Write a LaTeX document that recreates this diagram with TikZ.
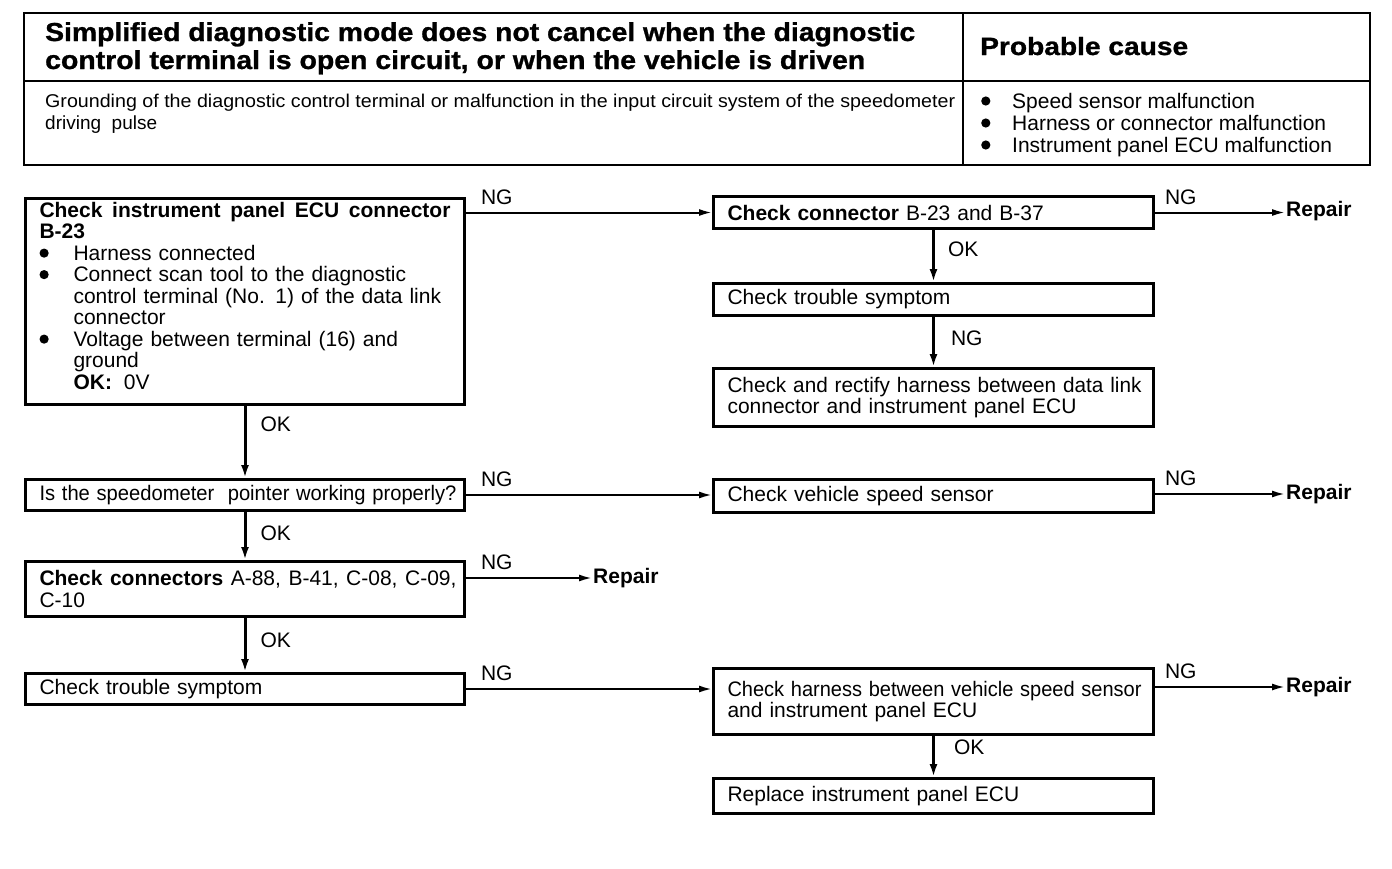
\documentclass[tikz,border=0pt]{standalone}
\usepackage{fontspec}
\setmainfont{Liberation Sans}
\newfontfamily\heavyfont{Liberation Sans}[BoldFeatures={FakeBold=1}]
\usepackage{graphicx}
\usetikzlibrary{arrows.meta}

\newcommand\bodyfont{\fontsize{21pt}{21.5pt}\selectfont}
\newcommand\bulletmark[1]{\makebox[#1pt][l]{\tikz[baseline=-7pt]\fill (0,0) circle (4.6pt);}}

\tikzset{
  box/.style={draw, line width=3pt, rectangle, anchor=north west, inner xsep=14pt, inner ysep=0pt,
              align=left, font=\bodyfont},
  lbox/.style={box, minimum width=439pt, text width=411pt},
  rbox/.style={box, minimum width=440pt, text width=412pt},
  lbl/.style={font=\bodyfont, inner sep=0pt, anchor=base west},
  rep/.style={font=\bodyfont\bfseries, inner sep=1pt, anchor=west},
  txt/.style={inner sep=0pt, anchor=base west},
  con/.style={line width=2pt, -{Latex[length=13pt,width=7pt]}},
  vcon/.style={line width=3pt, -{Latex[length=13pt,width=8pt]}},
  frame/.style={line width=2.6pt}
}

\begin{document}
\begin{tikzpicture}[x=1pt,y=1pt]
\useasboundingbox (0,0) rectangle (1392,-868);

% ---------- header table ----------
\draw[frame] (24,-13) rectangle (1370,-165);
\draw[frame] (24,-81) -- (1370,-81);
\draw[frame] (963,-13) -- (963,-165);

\node[txt] (t1) at (45,-41) {\resizebox{870pt}{\height}{\fontsize{26pt}{28pt}\heavyfont\bfseries Simplified diagnostic mode does not cancel when the diagnostic}};
\node[txt] (t2) at (45,-69) {\resizebox{820pt}{\height}{\fontsize{26pt}{28pt}\heavyfont\bfseries control terminal is open circuit, or when the vehicle is driven}};
\node[txt] (pc) at (980,-55) {\resizebox{208pt}{\height}{\fontsize{25pt}{28pt}\heavyfont\bfseries Probable cause}};

\node[txt] (g1) at (45,-107) {\resizebox{910pt}{\height}{\fontsize{18.5pt}{22pt}\selectfont Grounding of the diagnostic control terminal or malfunction in the input circuit system of the speedometer}};
\node[txt] (g2) at (45,-129) {\fontsize{19pt}{22pt}\selectfont driving\ \ pulse};

\node[txt, font=\bodyfont] (c1) at (981,-108) {\bulletmark{31}Speed sensor malfunction};
\node[txt, font=\bodyfont] (c2) at (981,-130) {\bulletmark{31}Harness or connector malfunction};
\node[txt, font=\bodyfont] (c3) at (981,-152) {\bulletmark{31}Instrument panel ECU malfunction};

% ---------- left column ----------
\node[lbox, minimum height=206pt] (A) at (24,-197) {%
\makebox[411pt][l]{\bfseries Check\hfill instrument\hfill panel\hfill ECU\hfill connector}\\
\textbf{B-23}\\
\bulletmark{34}Harness connected\\
\bulletmark{34}Connect scan tool to the diagnostic\\
\hspace*{34pt}control terminal (No. 1) of the data link\\
\hspace*{34pt}connector\\
\bulletmark{34}Voltage between terminal (16) and\\
\hspace*{34pt}ground\\
\hspace*{34pt}\textbf{OK:}\hspace{12pt}0V\rule[-12pt]{0pt}{1pt}};

\node[lbox, minimum height=31pt] (E) at (24,-478) {\resizebox{417pt}{\height}{Is the speedometer\ \ pointer working properly?}};
\node[lbox, minimum height=55pt] (G) at (24,-560) {\makebox[417pt][l]{\textbf{Check\hfill connectors}\hfill A-88,\hfill B-41,\hfill C-08,\hfill C-09,}\\C-10};
\node[lbox, minimum height=31pt] (H) at (24,-672) {Check trouble symptom};

% ---------- right column ----------
\node[rbox, minimum height=32pt] (B) at (712,-195) {\textbf{Check connector} B-23 and B-37};
\node[rbox, minimum height=32pt] (C) at (712,-282) {Check trouble symptom};
\node[rbox, minimum height=58pt] (D) at (712,-367) {\resizebox{414pt}{\height}{Check and rectify harness between data link}\\connector and instrument panel ECU};
\node[rbox, minimum height=33pt] (F) at (712,-478) {Check vehicle speed sensor};
\node[rbox, minimum height=66pt] (I) at (712,-667) {\resizebox{414pt}{\height}{Check harness between vehicle speed sensor}\\and instrument panel ECU};
\node[rbox, minimum height=35pt] (J) at (712,-777) {Replace instrument panel ECU};

% ---------- repair targets ----------
\node[rep] (R1) at (1285,-211) {Repair};
\node[rep] (R2) at (1285,-494) {Repair};
\node[rep] (R3) at (592,-578) {Repair};
\node[rep] (R4) at (1285,-687) {Repair};

% ---------- connectors ----------
\draw[con] (A.east |- B.west) -- node[lbl, pos=0, xshift=14pt, yshift=8pt] (n1) {NG} (B.west);
\draw[con] (B.east) -- node[lbl, pos=0, xshift=9pt, yshift=8pt] (n2) {NG} (B.east -| R1.west);
\draw[vcon] (B.south) -- node[lbl, pos=0, xshift=13pt, yshift=-26pt] (o1) {OK} (C.north);
\draw[vcon] (C.south) -- node[lbl, pos=0, xshift=16pt, yshift=-28pt] (n3) {NG} (D.north);

\draw[vcon] (A.south) -- node[lbl, pos=0, xshift=14pt, yshift=-25pt] (o2) {OK} (E.north);
\draw[con] (E.east) -- node[lbl, pos=0, xshift=14pt, yshift=9pt] (n4) {NG} (E.east -| F.west);
\draw[con] (F.east |- R2.west) -- node[lbl, pos=0, xshift=9pt, yshift=9pt] (n5) {NG} (R2.west);

\draw[vcon] (E.south) -- node[lbl, pos=0, xshift=14pt, yshift=-28pt] (o3) {OK} (G.north);
\draw[con] (G.east |- R3.west) -- node[lbl, pos=0, xshift=14pt, yshift=9pt] (n6) {NG} (R3.west);

\draw[vcon] (G.south) -- node[lbl, pos=0, xshift=14pt, yshift=-29pt] (o4) {OK} (H.north);
\draw[con] (H.east) -- node[lbl, pos=0, xshift=14pt, yshift=9pt] (n7) {NG} (H.east -| I.west);
\draw[con] (I.east |- R4.west) -- node[lbl, pos=0, xshift=9pt, yshift=9pt] (n8) {NG} (R4.west);
\draw[vcon] (I.south) -- node[lbl, pos=0, xshift=19pt, yshift=-18pt] (o5) {OK} (J.north);

\end{tikzpicture}
\end{document}
